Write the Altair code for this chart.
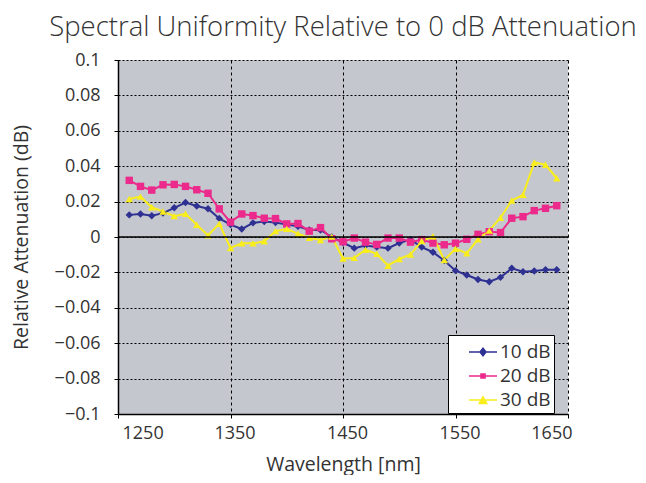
import altair as alt
import pandas as pd

FONT = "Open Sans"

wavelength = list(range(1260, 1641, 10))
series_names = ["10 dB", "20 dB", "30 dB"]
att_10 = [0.0125, 0.013, 0.012, 0.0135, 0.0165, 0.0195, 0.0175, 0.016, 0.0105, 0.007,
          0.0045, 0.008, 0.0088, 0.0082, 0.007, 0.006, 0.004, 0.004, 0.0, -0.0032,
          -0.0063, -0.0048, -0.0057, -0.0063, -0.0034, -0.0015, -0.0057, -0.0086, -0.0133, -0.019,
          -0.0215, -0.024, -0.0253, -0.0228, -0.0177, -0.0196, -0.0192, -0.0185, -0.0185]
att_20 = [0.032, 0.0286, 0.0265, 0.0295, 0.0297, 0.0286, 0.0267, 0.0247, 0.0159, 0.0084,
          0.013, 0.0121, 0.0106, 0.0104, 0.0074, 0.0076, 0.0033, 0.0053, -0.001, -0.0027,
          -0.0006, -0.0029, -0.0042, -0.0006, -0.0006, -0.0029, -0.0015, -0.0034, -0.0044, -0.0035,
          -0.0013, 0.0015, 0.003, 0.0025, 0.0106, 0.0115, 0.0149, 0.0162, 0.0177]
att_30 = [0.0215, 0.0228, 0.0168, 0.0144, 0.0118, 0.0131, 0.0069, 0.0009, 0.0075, -0.0062,
          -0.0036, -0.0036, -0.0024, 0.0033, 0.0046, 0.0018, -0.0005, -0.0017, 0.0002, -0.0122,
          -0.0118, -0.0072, -0.0095, -0.0162, -0.0124, -0.0099, -0.0023, 0.0004, -0.013, -0.0066,
          -0.0092, -0.0013, 0.0036, 0.0109, 0.0206, 0.0238, 0.0421, 0.0408, 0.0332]
colors = ["#2E3192", "#EC2A8C", "#F9EE1C"]
point_shapes = ["diamond", "square", "triangle-up"]
# legend glyphs: a short line with the series marker on it
legend_paths = [
    "M-1,-0.06H1V0.06H-1ZM0,-0.36L0.28,0L0,0.36L-0.28,0Z",
    "M-1,-0.06H1V0.06H-1ZM-0.2,-0.2H0.2V0.2H-0.2Z",
    "M-1,-0.06H1V0.06H-1ZM0,-0.34L0.36,0.3H-0.36Z",
]
x_ticks = [1250, 1350, 1450, 1550, 1650]
y_ticks = [-0.1, -0.08, -0.06, -0.04, -0.02, 0, 0.02, 0.04, 0.06, 0.08, 0.1]
zero_line = [0]

rows = []
for name, vals in zip(series_names, [att_10, att_20, att_30]):
    for w, v in zip(wavelength, vals):
        rows.append({"wl": w, "att": v, "series": name})
df = pd.DataFrame(rows)

x_scale = alt.Scale(domain=[1250, 1650], nice=False)
y_scale = alt.Scale(domain=[-0.1, 0.1], nice=False)
x_axis = alt.Axis(values=x_ticks, format="d", title="Wavelength [nm]", grid=True,
                  gridDash=[3, 3], gridColor="#000", gridOpacity=1, gridWidth=1,
                  labelPadding=6, titlePadding=13, labelOffset=4)
y_axis = alt.Axis(values=y_ticks, format=".2~f", title="Relative Attenuation (dB)",
                  grid=True, gridDash=[2, 2], gridColor="#000", gridOpacity=1,
                  gridWidth=1, labelOverlap=False, labelPadding=14, titlePadding=23)


def cscale():
    return alt.Scale(domain=series_names, range=colors)


base = alt.Chart(df)
lines = base.mark_line(strokeWidth=2).encode(
    x=alt.X("wl:Q", scale=x_scale, axis=x_axis),
    y=alt.Y("att:Q", scale=y_scale, axis=y_axis),
    color=alt.Color("series:N", scale=cscale(), legend=None),
)
points = base.mark_point(filled=True, size=55, opacity=1).encode(
    x=alt.X("wl:Q", scale=x_scale, axis=x_axis),
    y=alt.Y("att:Q", scale=y_scale, axis=y_axis),
    color=alt.Color("series:N", scale=cscale(), legend=None),
    shape=alt.Shape("series:N", scale=alt.Scale(domain=series_names, range=point_shapes), legend=None),
)
# legend-only layer: no rows survive the filter, the legend comes from the explicit scale domains
legend_layer = base.transform_filter("datum.wl < 0").mark_point(filled=True, opacity=1).encode(
    x=alt.X("wl:Q", scale=x_scale, axis=x_axis),
    y=alt.Y("att:Q", scale=y_scale, axis=y_axis),
    color=alt.Color("series:N", scale=cscale(), legend=alt.Legend(
        title=None, orient="none", legendX=330, legendY=275,
        fillColor="white", strokeColor="black", padding=3,
        symbolSize=784, symbolOpacity=1, symbolStrokeWidth=0, symbolOffset=18,
        labelFontSize=19, labelColor="#333", labelFont=FONT, labelOffset=3, rowPadding=0,
    )),
    shape=alt.Shape("series:N", scale=alt.Scale(domain=series_names, range=legend_paths)),
)
zero = alt.Chart(pd.DataFrame({"att": zero_line})).mark_rule(color="#000", strokeWidth=1.5).encode(
    y=alt.Y("att:Q", scale=y_scale, axis=y_axis)
)

chart = alt.layer(lines, points, legend_layer, zero).resolve_scale(
    color="independent", shape="independent"
).properties(
    width=450, height=354,
    autosize=alt.AutoSizeParams(type="none"),
    padding={"left": 110, "top": 52, "right": 70, "bottom": 61},
    title=alt.TitleParams("Spectral Uniformity Relative to 0 dB Attenuation", fontSize=27.5,
                          font=FONT, fontWeight=300, color="#333", offset=10),
).configure_view(fill="#C4C7CE", stroke=None).configure_axis(
    labelFont=FONT, titleFont=FONT, labelFontSize=18, titleFontSize=19.5,
    labelColor="#333", titleColor="#333", titleFontWeight="normal",
    domainColor="#000", domainWidth=1.5, tickColor="#000", tickSize=4,
).configure_axisY(labelOverlap=False)

chart.save("out.html", embed_options={"renderer": "svg", "actions": False})
